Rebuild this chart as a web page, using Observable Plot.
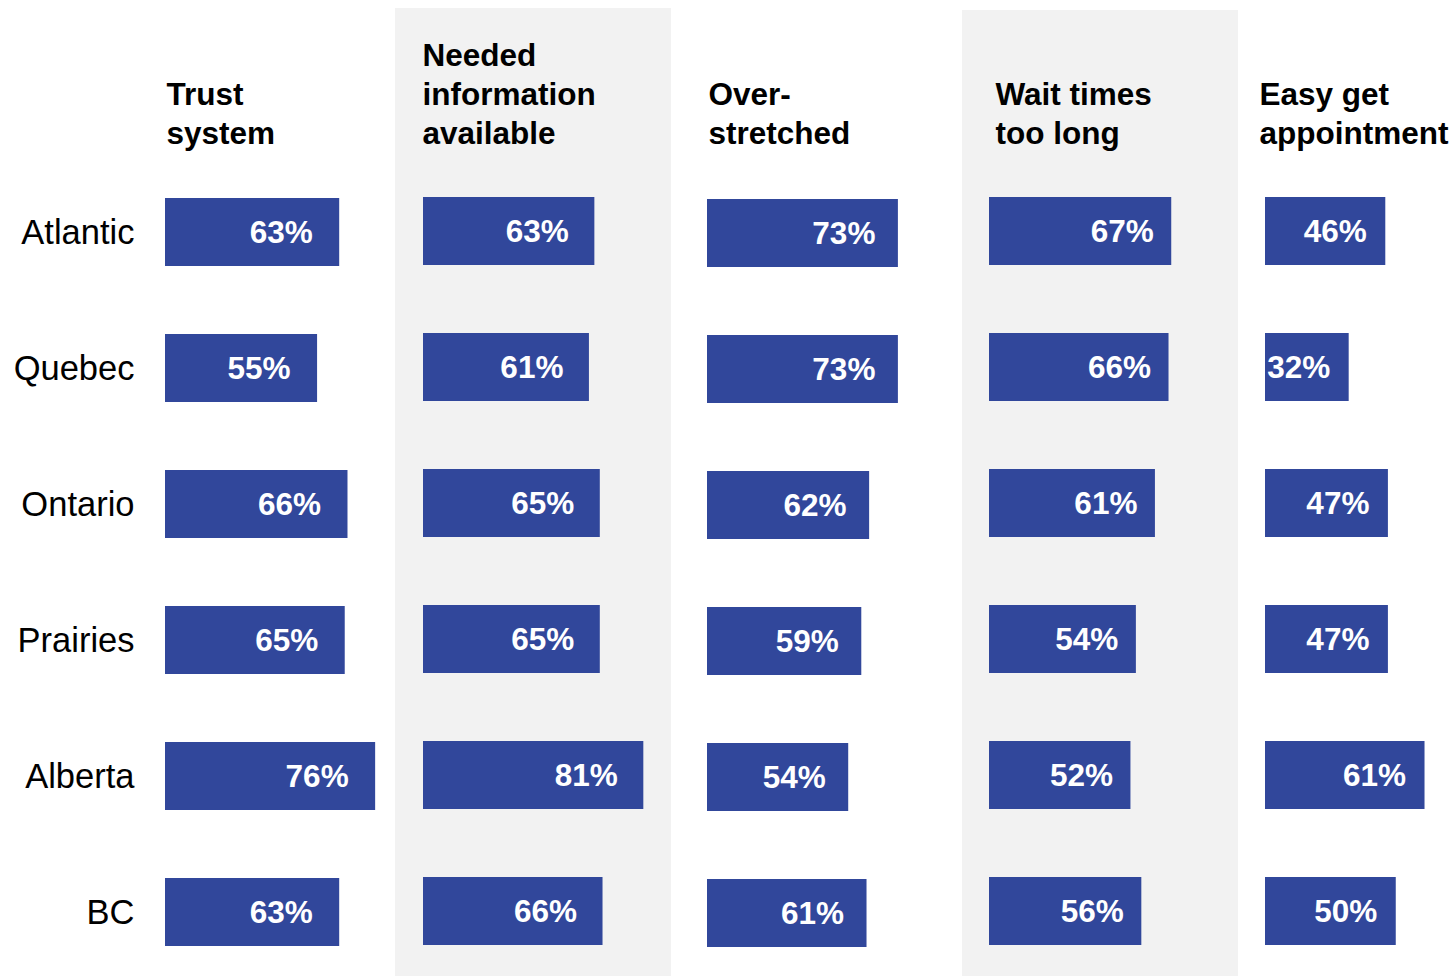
<!DOCTYPE html>
<html><head><meta charset="utf-8">
<script src="https://cdn.jsdelivr.net/npm/d3@7"></script>
<script src="https://cdn.jsdelivr.net/npm/@observablehq/plot@0.6"></script>
<style>
body{margin:0;background:#fff;}
#chart{position:relative;width:1455px;height:976px;overflow:hidden;font-family:"Liberation Sans",Arial,sans-serif;}
#chart svg{position:absolute;overflow:visible;}
</style></head><body><div id="chart"></div>
<script>
const regions = ["Atlantic","Quebec","Ontario","Prairies","Alberta","BC"];
const measures = ["Trust\nsystem","Needed\ninformation\navailable","Over-\nstretched","Wait times\ntoo long","Easy get\nappointment"];
const trustSystem = [63,55,66,65,76,63];
const neededInfo = [63,61,65,65,81,66];
const overStretched = [73,73,62,59,54,61];
const waitTooLong = [67,66,61,54,52,56];
const easyAppointment = [46,32,47,47,61,50];
const seriesValues = [trustSystem, neededInfo, overStretched, waitTooLong, easyAppointment];

// page layout per column (pixels)
const layout = [
  {left:0,    top:0,  width:395, x0:165, pxPerPct:2.765, barTop:197, labelDx:-27, headDx:1,  bg:null,      axis:true},
  {left:395,  top:8,  width:276, x0:28,  pxPerPct:2.72,  barTop:196, labelDx:-26, headDx:-1, bg:"#f2f2f2"},
  {left:671,  top:0,  width:291, x0:36,  pxPerPct:2.615, barTop:198, labelDx:-23, headDx:1,  bg:null},
  {left:962,  top:10, width:276, x0:27,  pxPerPct:2.72,  barTop:196, labelDx:-18, headDx:6,  bg:"#f2f2f2"},
  {left:1238, top:0,  width:217, x0:27,  pxPerPct:2.615, barTop:196, labelDx:-19, headDx:-6, bg:null}
];
const barColor = "#31479b";
const font = "'Liberation Sans', Arial, sans-serif";
const step = 136.36, pOuter = 0.2, pInner = 0.5;
const headBaseline = 143;

const chart = document.getElementById("chart");
measures.forEach((m, i) => {
  const L = layout[i];
  const data = regions.map((r, j) => ({region: r, value: seriesValues[i][j]}));
  const H = 976 - L.top;
  const mt = L.barTop - pOuter * step - L.top;
  const marks = [
    Plot.barX(data, {x: "value", y: "region", fill: barColor}),
    Plot.text(data, {x: "value", y: "region", text: d => d.value + "%", textAnchor: "end",
      dx: L.labelDx, dy: 0.5, fill: "white", fontSize: 31.5, fontWeight: "bold"}),
    Plot.text([m], {frameAnchor: "top-left", text: d => d, textAnchor: "start", lineAnchor: "bottom",
      lineHeight: 1.235, dx: L.headDx, dy: headBaseline - L.top - mt, fontSize: 31.5, fontWeight: "bold", fill: "black"})
  ];
  if (L.axis) marks.push(Plot.axisY({tickSize: 0, tickPadding: 31, fontSize: 34.5, dy: 0, label: null, fill: "black"}));
  const svg = Plot.plot({
    width: L.width, height: H,
    marginLeft: L.x0, marginRight: 0, marginTop: mt, marginBottom: 0,
    x: {domain: [0, 100], range: [L.x0, L.x0 + 100 * L.pxPerPct], axis: null},
    y: {domain: regions, range: [mt, mt + (regions.length - pInner + 2 * pOuter) * step],
        paddingInner: pInner, paddingOuter: pOuter, axis: L.axis ? undefined : null},
    style: {fontFamily: font, background: L.bg || "transparent", color: "black", overflow: "visible"},
    marks
  });
  svg.style.left = L.left + "px";
  svg.style.top = L.top + "px";
  chart.appendChild(svg);
});
</script></body></html>
